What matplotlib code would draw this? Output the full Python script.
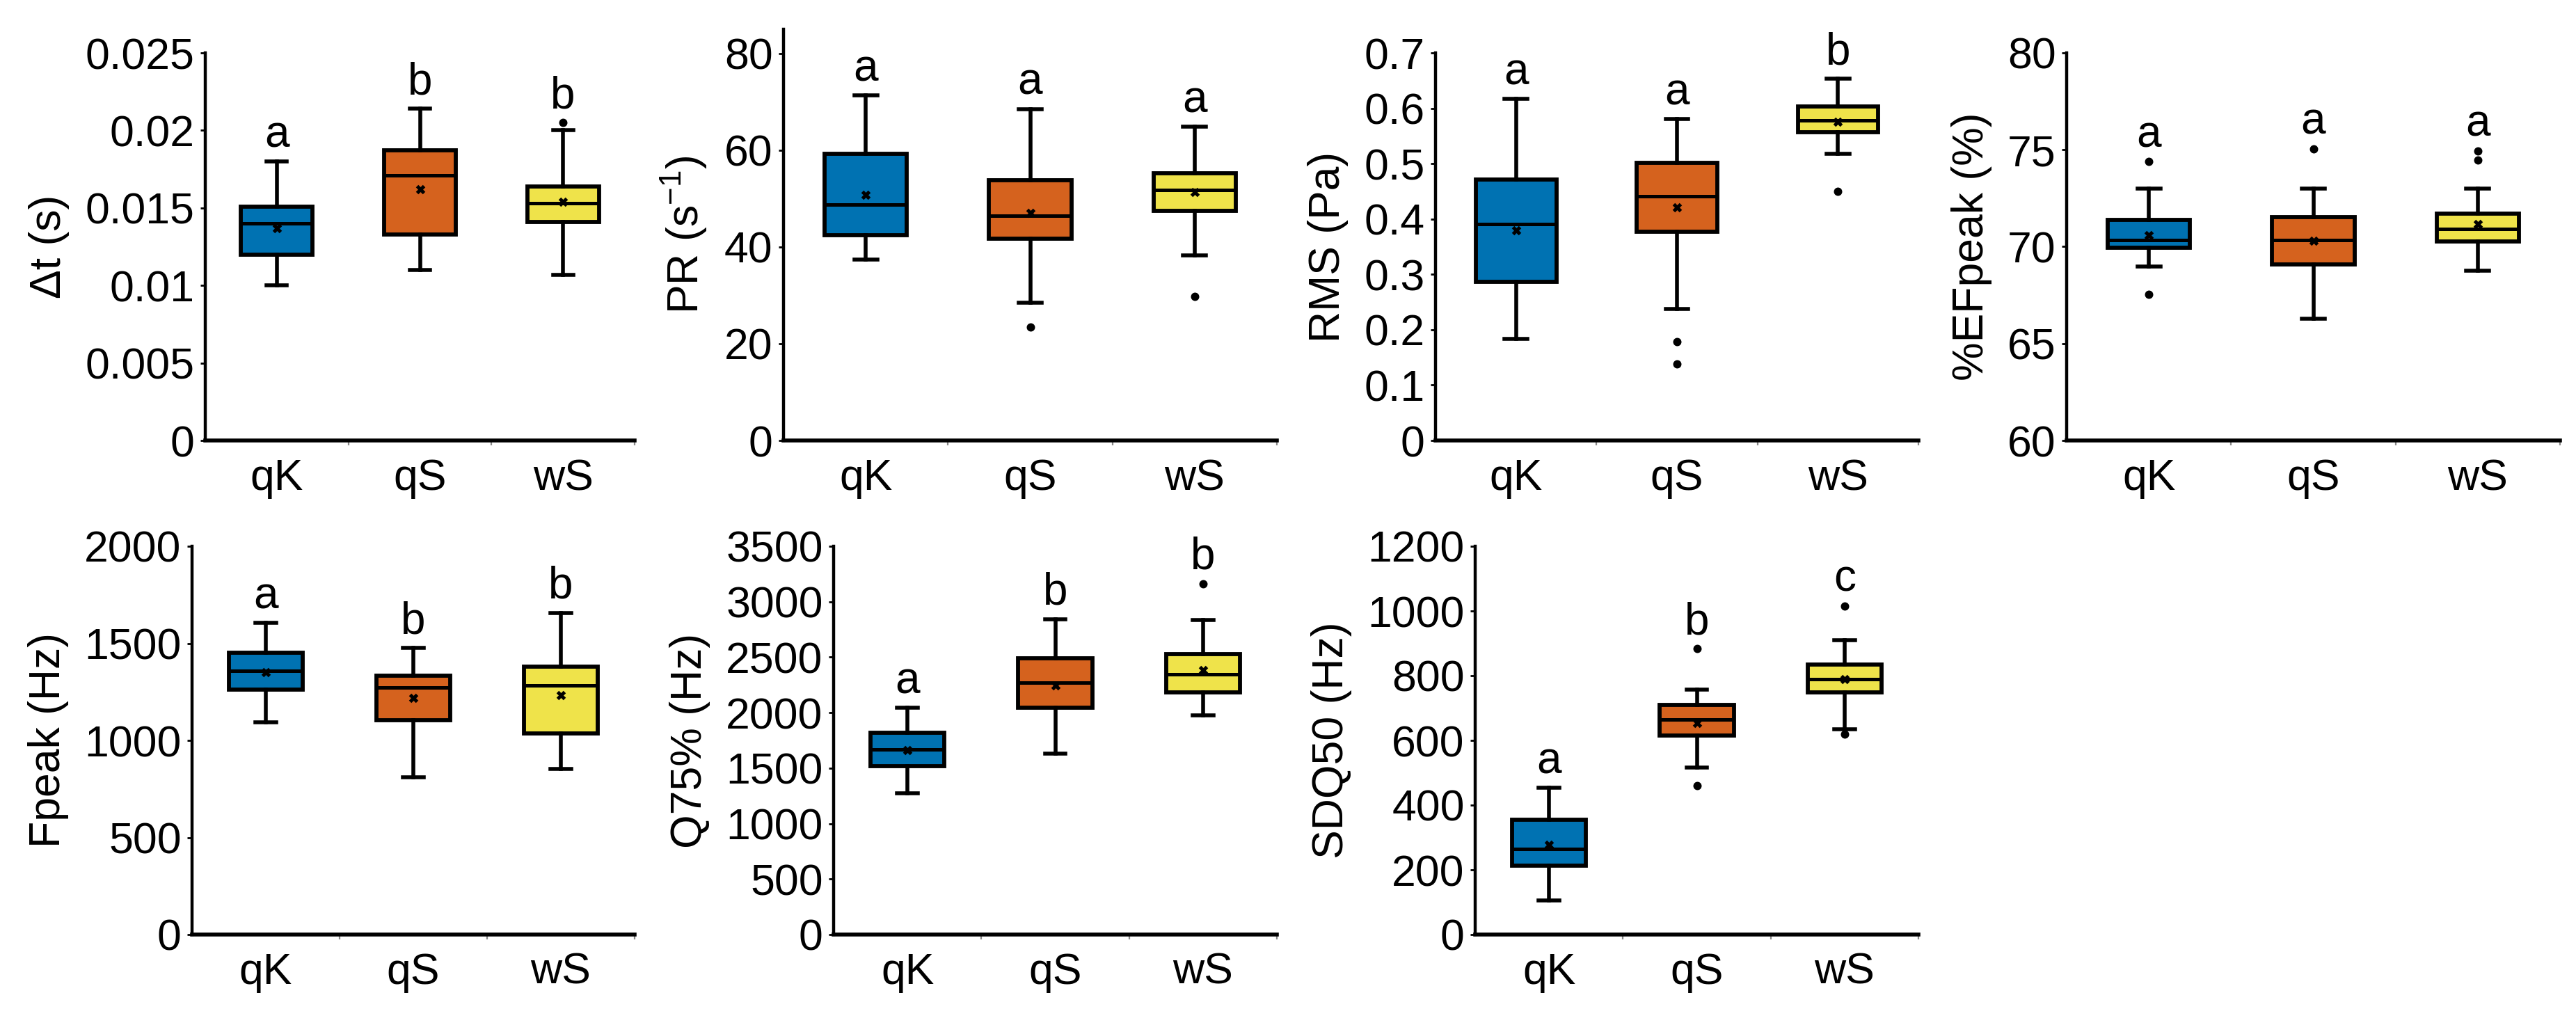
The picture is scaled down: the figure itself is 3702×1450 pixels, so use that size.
import numpy as np
import matplotlib.pyplot as plt
from matplotlib.ticker import FixedLocator, NullFormatter

plt.rcParams['font.family'] = ['Liberation Sans', 'DejaVu Sans']
plt.rcParams['font.size'] = 22.5
plt.rcParams['mathtext.default'] = 'regular'

groups = ['qK', 'qS', 'wS']
colors = ['#0072B2', '#D5621E', '#EFE34A']

# per panel, per group: [whislo, q1, median, q3, whishi], means, fliers, letters
dt_stats = [[0.0100, 0.0120, 0.0140, 0.0151, 0.0180],
            [0.0110, 0.0133, 0.0171, 0.0187, 0.0214],
            [0.0107, 0.0141, 0.0153, 0.0164, 0.0200]]
dt_mean = [0.0137, 0.0162, 0.0154]
dt_fliers = [[], [], [0.0205]]
dt_letters = ['a', 'b', 'b']

pr_stats = [[37.4, 42.4, 48.8, 59.2, 71.3],
            [28.5, 41.7, 46.5, 53.8, 68.5],
            [38.3, 47.4, 51.8, 55.3, 64.8]]
pr_mean = [50.8, 47.0, 51.3]
pr_fliers = [[], [23.4], [29.7]]
pr_letters = ['a', 'a', 'a']

rms_stats = [[0.184, 0.286, 0.391, 0.471, 0.617],
             [0.238, 0.377, 0.441, 0.501, 0.580],
             [0.518, 0.557, 0.578, 0.603, 0.653]]
rms_mean = [0.380, 0.421, 0.575]
rms_fliers = [[], [0.179, 0.138], [0.450]]
rms_letters = ['a', 'a', 'b']

ef_stats = [[68.99, 69.94, 70.34, 71.39, 73.0],
            [66.30, 69.10, 70.34, 71.51, 73.0],
            [68.75, 70.26, 70.91, 71.70, 73.0]]
ef_mean = [70.58, 70.30, 71.15]
ef_fliers = [[74.39, 67.53], [75.06], [74.95, 74.47]]
ef_letters = ['a', 'a', 'a']

fp_stats = [[1092, 1260, 1357, 1453, 1606],
            [811, 1105, 1272, 1333, 1477],
            [852, 1037, 1282, 1380, 1657]]
fp_mean = [1352, 1220, 1234]
fp_fliers = [[], [], []]
fp_letters = ['a', 'b', 'b']

q75_stats = [[1275, 1515, 1671, 1820, 2045],
             [1629, 2045, 2273, 2489, 2843],
             [1973, 2180, 2345, 2525, 2834]]
q75_mean = [1665, 2243, 2384]
q75_fliers = [[], [], [3164]]
q75_letters = ['a', 'b', 'b']

sdq_stats = [[105, 213, 264, 355, 454],
             [516, 615, 665, 710, 758],
             [634, 748, 790, 835, 910]]
sdq_mean = [278, 653, 790]
sdq_fliers = [[], [884, 460], [1016, 620]]
sdq_letters = ['a', 'b', 'c']

panels = [
    ('Δt (s)', dt_stats, dt_mean, dt_fliers, dt_letters, (0, 0.025), np.arange(0, 0.0251, 0.005)),
    ('PR (s$^{-1}$)', pr_stats, pr_mean, pr_fliers, pr_letters, (0, 85), np.arange(0, 81, 20)),
    ('RMS (Pa)', rms_stats, rms_mean, rms_fliers, rms_letters, (0, 0.7), np.arange(0, 0.71, 0.1)),
    ('%EFpeak (%)', ef_stats, ef_mean, ef_fliers, ef_letters, (60, 80), np.arange(60, 81, 5)),
    ('Fpeak (Hz)', fp_stats, fp_mean, fp_fliers, fp_letters, (0, 2000), np.arange(0, 2001, 500)),
    ('Q75% (Hz)', q75_stats, q75_mean, q75_fliers, q75_letters, (0, 3500), np.arange(0, 3501, 500)),
    ('SDQ50 (Hz)', sdq_stats, sdq_mean, sdq_fliers, sdq_letters, (0, 1200), np.arange(0, 1201, 200)),
]

W, H = 3702, 1450
# axes boxes in pixels: left, right, top, bottom
boxes = [(295, 912, 76, 633), (1126, 1835, 42, 633), (2063, 2757, 76, 633), (2970, 3679, 76, 633),
         (276, 912, 785, 1343), (1198, 1835, 785, 1343), (2120, 2757, 785, 1343)]

fig = plt.figure(figsize=(W / 200, H / 200), dpi=200)

for (label, stats, means, fliers, letters, ylim, yticks), (l, r, t, b) in zip(panels, boxes):
    ax = fig.add_axes([l / W, 1 - b / H, (r - l) / W, (b - t) / H])
    bstats = []
    for s, m, f in zip(stats, means, fliers):
        bstats.append(dict(whislo=s[0], q1=s[1], med=s[2], q3=s[3], whishi=s[4], mean=m, fliers=f))
    bp = ax.bxp(bstats, positions=[1, 2, 3], widths=0.5, capwidths=0.14,
                showmeans=True, patch_artist=True,
                boxprops=dict(linewidth=2.1, edgecolor='black'),
                whiskerprops=dict(linewidth=2.0, color='black'),
                capprops=dict(linewidth=2.0, color='black'),
                medianprops=dict(linewidth=1.8, color='black'),
                meanprops=dict(marker='x', markersize=3.5, markeredgewidth=1.8,
                               markeredgecolor='black'),
                flierprops=dict(marker='o', markersize=3.3, markerfacecolor='black',
                                markeredgecolor='black'))
    for patch, c in zip(bp['boxes'], colors):
        patch.set_facecolor(c)

    for i, (s, f, let) in enumerate(zip(stats, fliers, letters)):
        top = max([s[4]] + f)
        ax.annotate(let, (i + 1, top), xytext=(0, 7.5), textcoords='offset points',
                    ha='center', va='baseline', fontsize=23)

    ax.set_xlim(0.5, 3.5)
    ax.set_ylim(*ylim)
    ax.set_yticks(yticks)
    ax.set_yticklabels([f'{v:g}' for v in np.round(yticks, 4)])
    ax.set_xticks([1, 2, 3])
    ax.set_xticklabels(groups)
    ax.xaxis.set_minor_locator(FixedLocator([1.5, 2.5, 3.5]))
    ax.tick_params(axis='x', which='major', length=0, pad=9)
    ax.tick_params(axis='x', which='minor', length=2.5, width=0.8, color='#888888')
    ax.tick_params(axis='y', length=2.5, width=1.0, pad=3)
    ax.set_ylabel(label, labelpad=8)
    for side in ['top', 'right']:
        ax.spines[side].set_visible(False)
    for side in ['left', 'bottom']:
        ax.spines[side].set_linewidth(2.0)
    ax.spines['left'].set_linewidth(1.6)

fig.savefig('out.png', dpi=200, facecolor='white')
